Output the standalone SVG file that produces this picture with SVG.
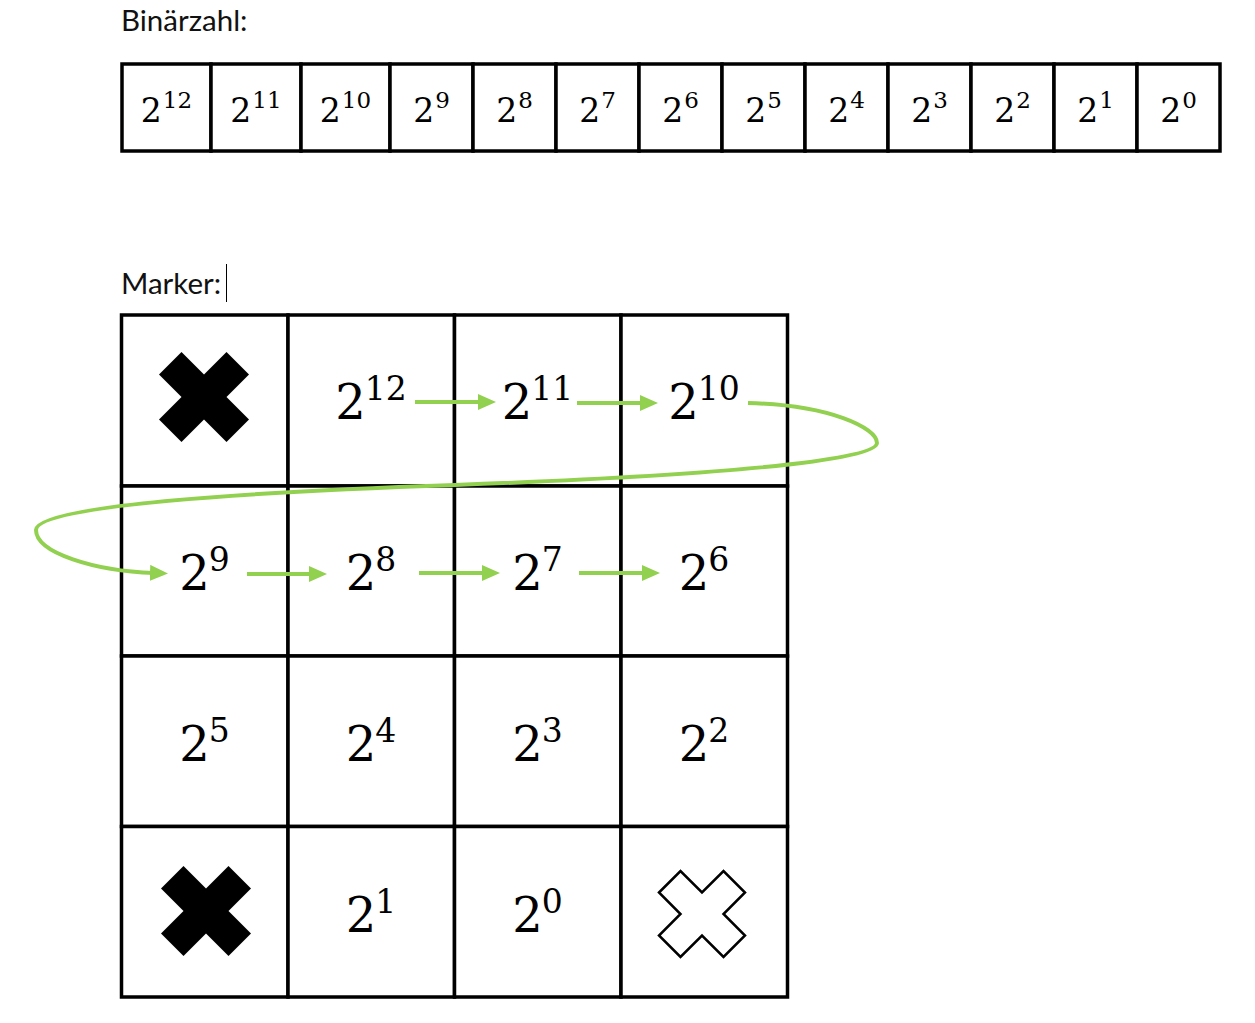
<svg xmlns="http://www.w3.org/2000/svg" width="1255" height="1023" viewBox="0 0 1255 1023">
<style>
.lbl{font-family:Lato,"Liberation Sans",sans-serif;font-size:29.5px;fill:#111}
.cell{fill:#fff;stroke:#000;stroke-width:3.5}
.tt{font-family:'DejaVu Serif','Liberation Serif',serif;font-size:33px;fill:#000;text-anchor:middle}
.ts{font-size:23px}
.gt{font-family:'DejaVu Serif','Liberation Serif',serif;font-size:48px;fill:#000;text-anchor:middle}
.gs{font-size:33px}
.arr{fill:none;stroke:#92D050;stroke-width:4;marker-end:url(#ah)}
</style>
<defs>
<marker id="ah" markerUnits="userSpaceOnUse" markerWidth="18" markerHeight="16" refX="4" refY="8" orient="auto" viewBox="0 0 18 16">
<path d="M0,0 L18,8 L0,16 z" fill="#92D050"/>
</marker>
<path id="xs" d="M-45,-22.5 L-22.5,-45 L0,-22.5 L22.5,-45 L45,-22.5 L22.5,0 L45,22.5 L22.5,45 L0,22.5 L-22.5,45 L-45,22.5 L-22.5,0 z"/>
</defs>
<rect width="1255" height="1023" fill="#fff"/>
<text id="title1" class="lbl" x="121" y="31">Binärzahl:</text>
<text id="title2" class="lbl" x="121" y="294">Marker:</text>
<line x1="226.5" y1="264" x2="226.5" y2="302" stroke="#000" stroke-width="1"/>

<g id="binary">
<g id="b12"><rect class="cell" x="122" y="64" width="89" height="87"/><text class="tt" x="166.5" y="122">2<tspan class="ts" dx="1" dy="-14">12</tspan></text></g>
<g id="b11"><rect class="cell" x="211" y="64" width="90" height="87"/><text class="tt" x="256" y="122">2<tspan class="ts" dx="1" dy="-14">11</tspan></text></g>
<g id="b10"><rect class="cell" x="301" y="64" width="89" height="87"/><text class="tt" x="345.5" y="122">2<tspan class="ts" dx="1" dy="-14">10</tspan></text></g>
<g id="b9"><rect class="cell" x="390" y="64" width="83" height="87"/><text class="tt" x="431.5" y="122">2<tspan class="ts" dx="1" dy="-14">9</tspan></text></g>
<g id="b8"><rect class="cell" x="473" y="64" width="83" height="87"/><text class="tt" x="514.5" y="122">2<tspan class="ts" dx="1" dy="-14">8</tspan></text></g>
<g id="b7"><rect class="cell" x="556" y="64" width="83" height="87"/><text class="tt" x="597.5" y="122">2<tspan class="ts" dx="1" dy="-14">7</tspan></text></g>
<g id="b6"><rect class="cell" x="639" y="64" width="83" height="87"/><text class="tt" x="680.5" y="122">2<tspan class="ts" dx="1" dy="-14">6</tspan></text></g>
<g id="b5"><rect class="cell" x="722" y="64" width="83" height="87"/><text class="tt" x="763.5" y="122">2<tspan class="ts" dx="1" dy="-14">5</tspan></text></g>
<g id="b4"><rect class="cell" x="805" y="64" width="83" height="87"/><text class="tt" x="846.5" y="122">2<tspan class="ts" dx="1" dy="-14">4</tspan></text></g>
<g id="b3"><rect class="cell" x="888" y="64" width="83" height="87"/><text class="tt" x="929.5" y="122">2<tspan class="ts" dx="1" dy="-14">3</tspan></text></g>
<g id="b2"><rect class="cell" x="971" y="64" width="83" height="87"/><text class="tt" x="1012.5" y="122">2<tspan class="ts" dx="1" dy="-14">2</tspan></text></g>
<g id="b1"><rect class="cell" x="1054" y="64" width="83" height="87"/><text class="tt" x="1095.5" y="122">2<tspan class="ts" dx="1" dy="-14">1</tspan></text></g>
<g id="b0"><rect class="cell" x="1137" y="64" width="83" height="87"/><text class="tt" x="1178.5" y="122">2<tspan class="ts" dx="1" dy="-14">0</tspan></text></g>
</g>

<g id="marker">
<g id="m00"><rect class="cell" x="121.5" y="315" width="166.5" height="171"/><use href="#xs" x="204" y="397" fill="#000"/></g>
<g id="m01"><rect class="cell" x="288" y="315" width="166.5" height="171"/><text class="gt" x="371" y="419">2<tspan class="gs" dx="-1" dy="-19">12</tspan></text></g>
<g id="m02"><rect class="cell" x="454.5" y="315" width="166.5" height="171"/><text class="gt" x="537.5" y="419">2<tspan class="gs" dx="-1" dy="-19">11</tspan></text></g>
<g id="m03"><rect class="cell" x="621" y="315" width="166.5" height="171"/><text class="gt" x="704" y="419">2<tspan class="gs" dx="-1" dy="-19">10</tspan></text></g>

<g id="m10"><rect class="cell" x="121.5" y="486" width="166.5" height="170"/><text class="gt" x="204.5" y="590">2<tspan class="gs" dx="-1" dy="-19">9</tspan></text></g>
<g id="m11"><rect class="cell" x="288" y="486" width="166.5" height="170"/><text class="gt" x="371" y="590">2<tspan class="gs" dx="-1" dy="-19">8</tspan></text></g>
<g id="m12"><rect class="cell" x="454.5" y="486" width="166.5" height="170"/><text class="gt" x="537.5" y="590">2<tspan class="gs" dx="-1" dy="-19">7</tspan></text></g>
<g id="m13"><rect class="cell" x="621" y="486" width="166.5" height="170"/><text class="gt" x="704" y="590">2<tspan class="gs" dx="-1" dy="-19">6</tspan></text></g>

<g id="m20"><rect class="cell" x="121.5" y="656" width="166.5" height="170.5"/><text class="gt" x="204.5" y="761">2<tspan class="gs" dx="-1" dy="-19">5</tspan></text></g>
<g id="m21"><rect class="cell" x="288" y="656" width="166.5" height="170.5"/><text class="gt" x="371" y="761">2<tspan class="gs" dx="-1" dy="-19">4</tspan></text></g>
<g id="m22"><rect class="cell" x="454.5" y="656" width="166.5" height="170.5"/><text class="gt" x="537.5" y="761">2<tspan class="gs" dx="-1" dy="-19">3</tspan></text></g>
<g id="m23"><rect class="cell" x="621" y="656" width="166.5" height="170.5"/><text class="gt" x="704" y="761">2<tspan class="gs" dx="-1" dy="-19">2</tspan></text></g>

<g id="m30"><rect class="cell" x="121.5" y="826.5" width="166.5" height="170.5"/><use href="#xs" x="206" y="911" fill="#000"/></g>
<g id="m31"><rect class="cell" x="288" y="826.5" width="166.5" height="170.5"/><text class="gt" x="371" y="932">2<tspan class="gs" dx="-1" dy="-19">1</tspan></text></g>
<g id="m32"><rect class="cell" x="454.5" y="826.5" width="166.5" height="170.5"/><text class="gt" x="537.5" y="932">2<tspan class="gs" dx="-1" dy="-19">0</tspan></text></g>
<g id="m33"><rect class="cell" x="621" y="826.5" width="166.5" height="170.5"/><path d="M659,892.5 L680.5,871 L702,892.5 L723.5,871 L745,892.5 L723.5,914 L745,935.5 L723.5,957 L702,935.5 L680.5,957 L659,935.5 L680.5,914 z" fill="#fff" stroke="#000" stroke-width="2.5" stroke-linejoin="miter"/></g>
</g>

<g id="connectors">
<path class="arr" d="M415,402 L482,402"/>
<path class="arr" d="M577,403 L644,403"/>
<path class="arr" d="M748,403 C830,405 877,428 877,443 C877,462 700,476 455,485 C250,492 36,505 36,530 C36,553 95,571 154,573"/>
<path class="arr" d="M247,574 L313,574"/>
<path class="arr" d="M419,573 L486,573"/>
<path class="arr" d="M579,573 L646,573"/>
</g>
</svg>
